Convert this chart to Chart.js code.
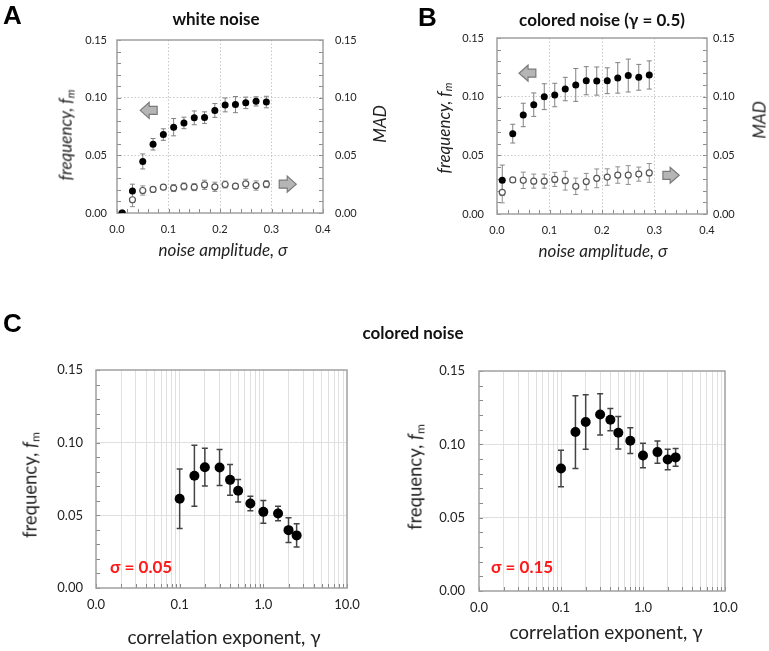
<!DOCTYPE html>
<html><head><meta charset="utf-8">
<script src="https://cdn.jsdelivr.net/npm/chart.js@4/dist/chart.umd.min.js"></script>
<style>
body{margin:0;width:769px;height:651px;position:relative;background:#fff;overflow:hidden;font-family:Lato,sans-serif;}
canvas{position:absolute;}
.t{position:absolute;white-space:nowrap;color:#111;line-height:1;}
.c{transform:translate(-50%,-50%);}
.r{transform:translate(-50%,-50%) rotate(-90deg);}
.L{font-family:"Liberation Sans",Arial,sans-serif;font-weight:bold;font-size:26px;color:#000;}
.ti{font-weight:bold;font-size:17px;color:#111;}
.ax{font-size:17px;color:#222;}
.it{font-style:italic;}
.sg{color:#ff1a1a;font-weight:bold;font-size:17px;}
sub{font-size:65%;vertical-align:-0.25em;}
</style></head><body>
<canvas id="cA" width="390" height="280" style="left:0;top:0"></canvas>
<canvas id="cB" width="379" height="280" style="left:390px;top:0"></canvas>
<canvas id="cC1" width="385" height="351" style="left:0;top:300px"></canvas>
<canvas id="cC2" width="384" height="351" style="left:385px;top:300px"></canvas>

<div class="t L" style="left:3px;top:2px">A</div>
<div class="t L" style="left:418px;top:4px">B</div>
<div class="t L" style="left:3px;top:310px">C</div>
<div class="t ti c" style="left:216px;top:18px">white noise</div>
<div class="t ti c" style="left:602px;top:19px">colored noise (γ = 0.5)</div>
<div class="t ti c" style="left:413px;top:332px">colored noise</div>

<div class="t ax it r" style="left:66px;top:135px">frequency, <i>f</i><sub>m</sub></div>
<div class="t ax it r" style="left:379px;top:124px">MAD</div>
<div class="t ax it c" style="left:223px;top:249px">noise amplitude, σ</div>

<div class="t ax it r" style="left:444px;top:128px">frequency, <i>f</i><sub>m</sub></div>
<div class="t ax it r" style="left:759px;top:120px">MAD</div>
<div class="t ax it c" style="left:603px;top:250px">noise amplitude, σ</div>

<div class="t ax r" style="left:31px;top:485px;font-size:18.5px">frequency, <i>f</i><sub>m</sub></div>
<div class="t ax c" style="left:224px;top:636px;font-size:19px">correlation exponent, γ</div>
<div class="t ax r" style="left:416px;top:477px;font-size:18.5px">frequency, <i>f</i><sub>m</sub></div>
<div class="t ax c" style="left:606px;top:631px;font-size:19px">correlation exponent, γ</div>

<div class="t sg" style="left:110px;top:558px">σ = 0.05</div>
<div class="t sg" style="left:491px;top:558px">σ = 0.15</div>

<script>
// ---- data ----
const sigma = [0.01,0.03,0.05,0.07,0.09,0.11,0.13,0.15,0.17,0.19,0.21,0.23,0.25,0.27,0.29];
const freqWhite    = [0.000,0.019,0.0447,0.0596,0.068,0.0744,0.0781,0.0825,0.0827,0.0889,0.0937,0.094,0.0955,0.0968,0.0962];
const freqWhiteErr = [0,0.006,0.0065,0.005,0.005,0.0075,0.005,0.006,0.005,0.006,0.006,0.007,0.005,0.004,0.005];
const madWhite     = [0,0.0115,0.0195,0.0204,0.0224,0.0216,0.023,0.0224,0.0244,0.0227,0.0247,0.0233,0.0253,0.0238,0.025];
const madWhiteErr  = [0,0.006,0.004,0.002,0.002,0.003,0.003,0.003,0.004,0.004,0.003,0.002,0.004,0.004,0.003];
const freqColored    = [0.0287,0.0685,0.0844,0.0932,0.100,0.1014,0.1065,0.110,0.1136,0.1133,0.1136,0.116,0.118,0.1165,0.1185];
const freqColoredErr = [0.013,0.008,0.010,0.010,0.011,0.010,0.010,0.014,0.012,0.012,0.011,0.013,0.014,0.011,0.012];
const madColored     = [0.0185,0.029,0.0287,0.028,0.028,0.0295,0.0284,0.0236,0.0276,0.0304,0.0315,0.0332,0.0332,0.034,0.035];
const madColoredErr  = [0.009,0.002,0.007,0.006,0.006,0.006,0.008,0.007,0.007,0.008,0.007,0.007,0.008,0.006,0.008];

const gamma = [0.1,0.15,0.2,0.3,0.4,0.5,0.7,1.0,1.5,2.0,2.5];
const freqSigma005 = [0.0614,0.0772,0.0831,0.0829,0.0744,0.0669,0.0582,0.0524,0.0513,0.0398,0.0362];
const errSigma005  = [0.0205,0.021,0.013,0.0124,0.0106,0.0078,0.005,0.0078,0.005,0.0085,0.008];
const freqSigma015 = [0.0835,0.1084,0.1152,0.1204,0.1168,0.1079,0.1025,0.0924,0.0947,0.0897,0.0911];
const errSigma015  = [0.0125,0.0248,0.0186,0.0141,0.0076,0.011,0.0088,0.0083,0.0076,0.007,0.006];

const yTickStep = 0.01, yMajor = 0.05, yMax = 0.15;
const sigmaTickStep = 0.02, sigmaMajor = 0.1, sigmaMax = 0.4;
const logDecades = [0.01,0.1,1];
const logMultipliers = [1,2,3,4,5,6,7,8,9];
const logMax = 10;

// arrows in data space
const arrowsA = [{x1:0.045,x2:0.078,y:0.089,dir:'left',axis:'y'},{x1:0.315,x2:0.348,y:0.025,dir:'right',axis:'y'}];
const arrowsB = [{x1:0.042,x2:0.074,y:0.120,dir:'left',axis:'y'},{x1:0.316,x2:0.347,y:0.033,dir:'right',axis:'y'}];

const isMult = (v,m)=>Math.abs(v/m - Math.round(v/m)) < 1e-6;

const deco = {
  id:'deco',
  beforeDatasetsDraw(chart, args, o){
    const {ctx, chartArea:a, scales} = chart;
    ctx.save();
    ctx.strokeStyle = o.tickColor || '#888'; ctx.lineWidth = 1;
    ctx.beginPath();
    (o.innerTicks||[]).forEach(spec=>{
      const s = scales[spec.axis];
      s.ticks.forEach(t=>{
        const p = Math.round(s.getPixelForValue(t.value))+0.5;
        if(spec.side==='left'){ctx.moveTo(a.left,p);ctx.lineTo(a.left+spec.len,p);}
        else if(spec.side==='right'){ctx.moveTo(a.right,p);ctx.lineTo(a.right-spec.len,p);}
        else {ctx.moveTo(p,a.bottom);ctx.lineTo(p,a.bottom-spec.len);}
      });
    });
    ctx.stroke();
    ctx.strokeStyle = o.frameColor; ctx.lineWidth = o.frameWidth;
    ctx.strokeRect(a.left, a.top, a.right-a.left, a.bottom-a.top);
    (o.arrows||[]).forEach(ar=>{
      const xs = scales.x, ys = scales[ar.axis];
      const x1 = xs.getPixelForValue(ar.x1), x2 = xs.getPixelForValue(ar.x2), y = ys.getPixelForValue(ar.y);
      const H=16, h=8, hl=9;
      ctx.beginPath();
      if(ar.dir==='left'){
        ctx.moveTo(x1,y);ctx.lineTo(x1+hl,y-H/2);ctx.lineTo(x1+hl,y-h/2);ctx.lineTo(x2,y-h/2);
        ctx.lineTo(x2,y+h/2);ctx.lineTo(x1+hl,y+h/2);ctx.lineTo(x1+hl,y+H/2);
      } else {
        ctx.moveTo(x2,y);ctx.lineTo(x2-hl,y-H/2);ctx.lineTo(x2-hl,y-h/2);ctx.lineTo(x1,y-h/2);
        ctx.lineTo(x1,y+h/2);ctx.lineTo(x2-hl,y+h/2);ctx.lineTo(x2-hl,y+H/2);
      }
      ctx.closePath();
      ctx.fillStyle='#b5b5b5'; ctx.fill();
      ctx.strokeStyle='#7a7a7a'; ctx.lineWidth=1.2; ctx.stroke();
    });
    chart.data.datasets.forEach(ds=>{
      if(!ds.errors) return;
      const xs = scales.x, ys = scales[ds.yAxisID||'y'];
      ctx.strokeStyle = ds.errColor; ctx.lineWidth = ds.errWidth;
      ctx.beginPath();
      ds.data.forEach((pt,i)=>{
        const e = ds.errors[i]; if(!e) return;
        const px = xs.getPixelForValue(pt.x), top = ys.getPixelForValue(pt.y+e), bot = ys.getPixelForValue(pt.y-e);
        ctx.moveTo(px,top);ctx.lineTo(px,bot);
        ctx.moveTo(px-ds.cap,top);ctx.lineTo(px+ds.cap,top);
        ctx.moveTo(px-ds.cap,bot);ctx.lineTo(px+ds.cap,bot);
      });
      ctx.stroke();
    });
    ctx.restore();
  }
};

function yScale(pos, width, pad, fontSize, gridOn, gridColor, dash){
  return {
    position:pos, min:0, max:yMax,
    ticks:{stepSize:yTickStep, autoSkip:false, padding:pad, color:'#222', font:{family:'Lato',size:fontSize},
      callback:v=> isMult(v,yMajor) ? v.toFixed(2) : ''},
    grid:{drawTicks:false, drawOnChartArea:gridOn, lineWidth:1,
      color:c=> (c.tick && isMult(c.tick.value,yMajor) && c.tick.value>1e-9 && c.tick.value<yMax-1e-9) ? gridColor : 'rgba(0,0,0,0)'},
    border:{display:false, dash:dash},
    afterFit:s=>{s.width=width;}
  };
}

function noiseChart(id, d, freq, fErr, mad, mErr, arrows){
  return new Chart(document.getElementById(id), {
    type:'scatter',
    data:{datasets:[
      {data:freq.map((v,i)=>({x:sigma[i],y:v})), errors:fErr, yAxisID:'y', pointRadius:3.5, pointHoverRadius:3.5,
        backgroundColor:'#000', borderColor:'#000', borderWidth:0, errColor:'#808080', errWidth:1, cap:2.5},
      {data:mad.map((v,i)=>({x:sigma[i],y:v})), errors:mErr, yAxisID:'y1', pointRadius:3, pointHoverRadius:3,
        backgroundColor:'#fff', borderColor:'#555', borderWidth:1.2, errColor:'#909090', errWidth:1, cap:2.5}
    ]},
    options:{
      responsive:false, animation:false, devicePixelRatio:1, events:[],
      layout:{padding:{top:d.T,left:0,right:0,bottom:0}},
      plugins:{legend:{display:false}, tooltip:{enabled:false},
        deco:{frameColor:'#a0a0a0', frameWidth:1.5, tickColor:'#8a8a8a', arrows:arrows,
          innerTicks:[{axis:'y',side:'left',len:4},{axis:'y1',side:'right',len:4},{axis:'x',side:'bottom',len:4}]}},
      scales:{
        x:{type:'linear', min:0, max:sigmaMax,
          ticks:{stepSize:sigmaTickStep, autoSkip:false, maxRotation:0, padding:d.xPad, color:'#222', font:{family:'Lato',size:11},
            callback:v=> isMult(v,sigmaMajor) ? v.toFixed(1) : ''},
          grid:{drawTicks:false, lineWidth:1,
            color:c=> (c.tick && isMult(c.tick.value,sigmaMajor) && c.tick.value>1e-9 && c.tick.value<sigmaMax-1e-9) ? '#c8c8c8' : 'rgba(0,0,0,0)'},
          border:{display:false, dash:[1.5,2]},
          afterFit:s=>{s.height=d.B;}},
        y:yScale('left', d.L, d.yPad, 11, true, '#c8c8c8', [1.5,2]),
        y1:yScale('right', d.R, d.y1Pad, 11, false, '#c8c8c8', [1.5,2])
      }
    },
    plugins:[deco]
  });
}

function gammaChart(id, d, freq, err){
  const logTicks = [];
  logDecades.forEach(dec=>logMultipliers.forEach(m=>logTicks.push(+(dec*m).toPrecision(3))));
  logTicks.push(logMax);
  return new Chart(document.getElementById(id), {
    type:'scatter',
    data:{datasets:[
      {data:freq.map((v,i)=>({x:gamma[i],y:v})), errors:err, yAxisID:'y', pointRadius:5, pointHoverRadius:5,
        backgroundColor:'#000', borderColor:'#000', borderWidth:0, errColor:'#444', errWidth:1.5, cap:3}
    ]},
    options:{
      responsive:false, animation:false, devicePixelRatio:1, events:[],
      layout:{padding:{top:d.T,left:0,right:d.padR,bottom:0}},
      plugins:{legend:{display:false}, tooltip:{enabled:false},
        deco:{frameColor:'#a0a0a0', frameWidth:1.5, tickColor:'#888',
          innerTicks:[{axis:'y',side:'left',len:4},{axis:'x',side:'bottom',len:4}]}},
      scales:{
        x:{type:'logarithmic', min:logDecades[0], max:logMax,
          afterBuildTicks:s=>{s.ticks = logTicks.map(v=>({value:v}));},
          ticks:{autoSkip:false, maxRotation:0, padding:d.xPad, color:'#222', font:{family:'Lato',size:13},
            callback:v=>{const l=Math.log10(v); return Math.abs(l-Math.round(l))<1e-9 ? Number(v).toFixed(1) : '';}},
          grid:{drawTicks:false, lineWidth:1, color:c=> (c.tick && c.tick.value>logDecades[0]*1.0001 && c.tick.value<logMax*0.9999) ? '#e0e0e0' : 'rgba(0,0,0,0)'},
          border:{display:false},
          afterFit:s=>{s.height=d.B;}},
        y:yScale('left', d.L, d.yPad, 13, true, '#e0e0e0', [])
      }
    },
    plugins:[deco]
  });
}

noiseChart('cA', {T:40, L:117, R:67, B:67, yPad:10, y1Pad:12, xPad:10}, freqWhite, freqWhiteErr, madWhite, madWhiteErr, arrowsA);
noiseChart('cB', {T:38, L:107, R:62, B:66, yPad:13, y1Pad:6, xPad:10}, freqColored, freqColoredErr, madColored, madColoredErr, arrowsB);
gammaChart('cC1', {T:70, L:96, padR:38, B:63, yPad:13, xPad:9}, freqSigma005, errSigma005);
gammaChart('cC2', {T:71, L:94, padR:44, B:60, yPad:14, xPad:9}, freqSigma015, errSigma015);
</script>
</body></html>
